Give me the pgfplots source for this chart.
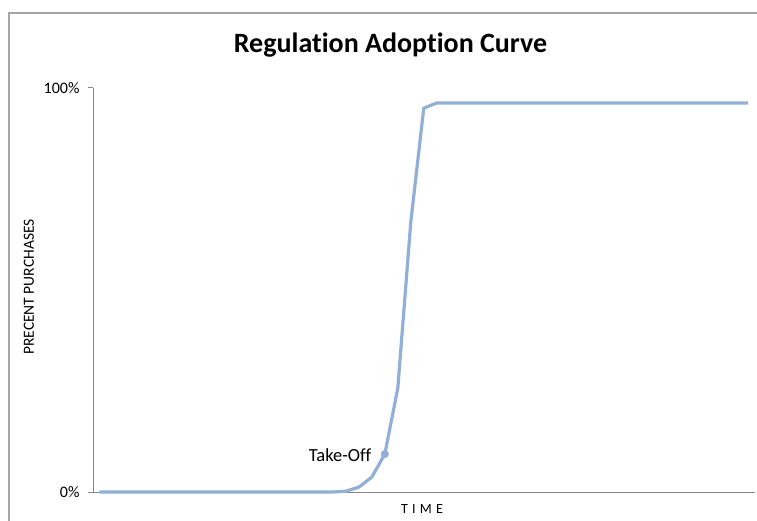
\documentclass[border=0pt]{standalone}
\usepackage{pgfplots}
\pgfplotsset{compat=1.18}
\usepackage{fontspec}
\setmainfont{Carlito}[Ligatures=NoCommon]
\definecolor{curve}{RGB}{146,175,213}
\definecolor{axgray}{RGB}{134,134,134}
\definecolor{framegray}{RGB}{165,165,165}
\begin{document}
\begin{tikzpicture}
\useasboundingbox (0,0) rectangle (757bp,521bp);
\draw[framegray, line width=1.3bp] (9bp,0) -- (9bp,508bp) -- (757bp,508bp);
\node[font=\bfseries\fontsize{28bp}{32bp}\selectfont, anchor=center] at (390.5bp,476bp) {Regulation Adoption Curve};
\node[font=\fontsize{15.5bp}{17bp}\selectfont, rotate=90, anchor=center] at (29bp,234bp) {PRECENT PURCHASES};
\node[font=\fontsize{14bp}{16bp}\selectfont\addfontfeatures{LetterSpace=30}, anchor=center] at (422bp,12bp) {TIME};
\begin{axis}[
  at={(93bp,29bp)}, anchor=south west,
  scale only axis, width=661.5bp, height=404bp,
  xmin=-0.5, xmax=50.5, ymin=0, ymax=100,
  axis x line*=bottom, axis y line*=left,
  axis line style={-, draw=axgray, line width=1bp},
  xtick=\empty,
  ytick={0,100}, yticklabels={0\%,100\%},
  tick align=outside, major tick length=5bp,
  ytick style={draw=axgray, line width=1bp},
  yticklabel style={font=\fontsize{16bp}{18bp}\selectfont, anchor=east, xshift=-5bp},
  clip=false,
]
\addplot[curve, line width=3.2bp, line join=round, no markers] coordinates {
(0,0) (1,0) (2,0) (3,0) (4,0) (5,0) (6,0) (7,0) (8,0) (9,0)
(10,0) (11,0) (12,0) (13,0) (14,0) (15,0) (16,0) (17,0) (18,0)
(19,0.2) (20,1.2) (21,3.7) (22,9.4) (23,25.7) (24,66.8) (25,95.0)
(26,96.3) (27,96.3) (28,96.3) (29,96.3) (30,96.3) (31,96.3) (32,96.3)
(33,96.3) (34,96.3) (35,96.3) (36,96.3) (37,96.3) (38,96.3) (39,96.3)
(40,96.3) (41,96.3) (42,96.3) (43,96.3) (44,96.3) (45,96.3) (46,96.3)
(47,96.3) (48,96.3) (49,96.3) (50,96.3)
};
\addplot[only marks, mark=*, mark size=3.8bp, curve, mark options={draw=curve, fill=curve}] coordinates {(22,9.4)}
  node[anchor=east, xshift=-10bp, yshift=-1bp, text=black, font=\fontsize{18.5bp}{20bp}\selectfont] {Take-Off};
\end{axis}
\end{tikzpicture}
\end{document}
